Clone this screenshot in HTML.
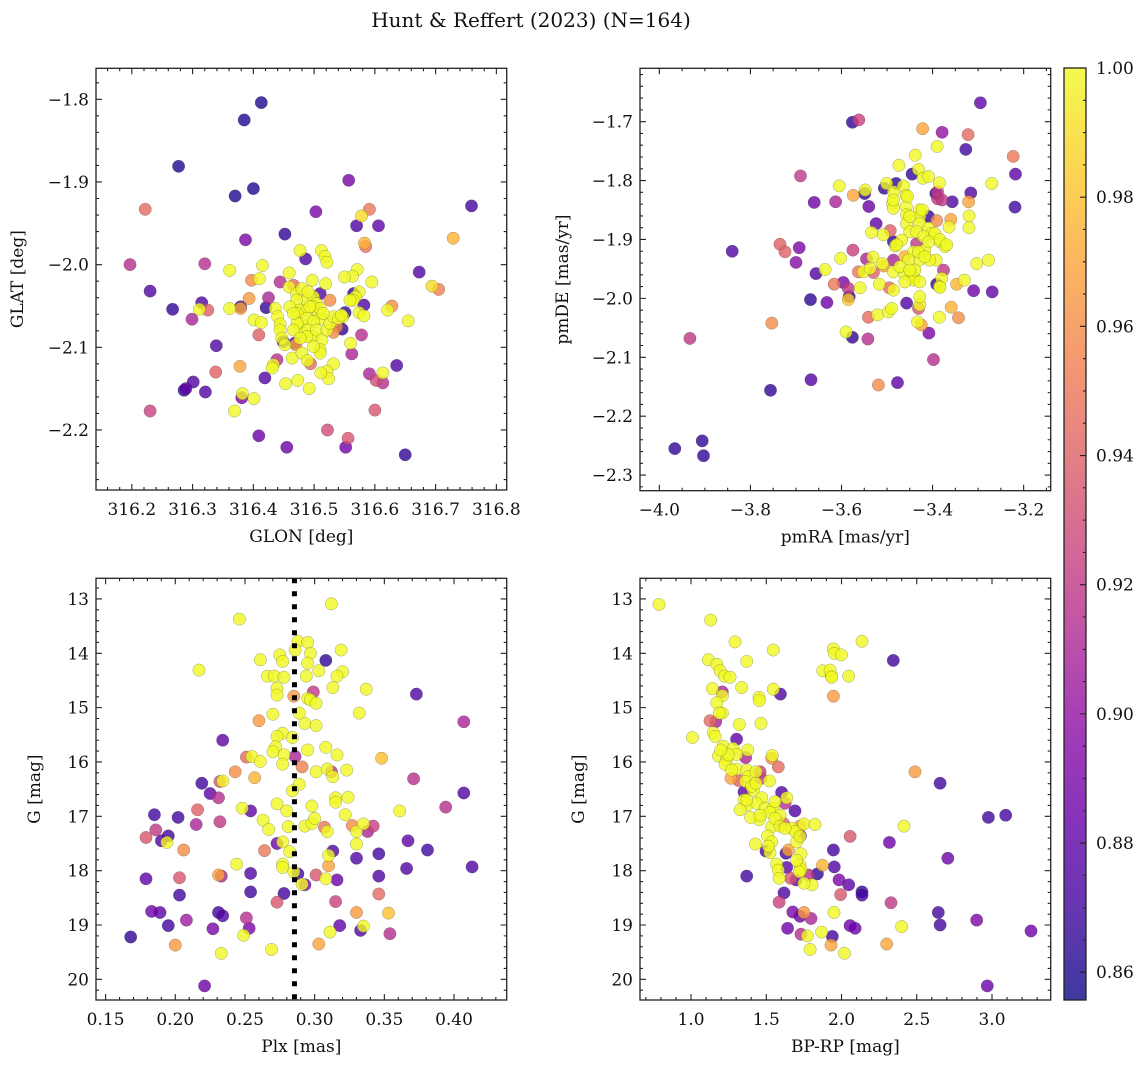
<!DOCTYPE html>
<html><head><meta charset="utf-8"><title>Hunt & Reffert (2023)</title>
<style>html,body{margin:0;padding:0;background:#fff}svg{display:block}text{font-family:"DejaVu Serif","Liberation Serif",serif;fill:#111}</style>
</head><body>
<svg id="fig" width="1148" height="1067" viewBox="0 0 1148 1067" xmlns="http://www.w3.org/2000/svg">
<defs><linearGradient id="plasma" x1="0" y1="1" x2="0" y2="0">
<stop offset="0" stop-color="#0d0887"/><stop offset="0.1" stop-color="#41049d"/><stop offset="0.2" stop-color="#6a00a8"/><stop offset="0.3" stop-color="#8f0da4"/><stop offset="0.4" stop-color="#b12a90"/><stop offset="0.5" stop-color="#cc4778"/><stop offset="0.6" stop-color="#e16462"/><stop offset="0.7" stop-color="#f2844b"/><stop offset="0.8" stop-color="#fca636"/><stop offset="0.9" stop-color="#fcce25"/><stop offset="1" stop-color="#f0f921"/>
</linearGradient></defs>
<text x="531" y="27" font-size="20" text-anchor="middle">Hunt &amp; Reffert (2023) (N=164)</text>
</svg>
<script>
const glon=[316.413,316.385,316.277,316.370,316.400,316.557,316.222,316.759,316.591,316.578,
316.503,316.570,316.606,316.452,316.387,316.729,316.585,316.583,316.486,316.197,
316.320,316.673,316.230,316.267,316.315,316.325,316.311,316.299,316.339,316.338,
316.301,316.286,316.289,316.321,316.230,316.409,316.455,316.522,316.556,316.552,
316.650,316.600,316.636,316.591,316.602,316.613,316.613,316.578,316.562,316.621,
316.628,316.655,316.694,316.705,316.595,316.582,316.565,316.574,316.582,316.574,
316.568,316.564,316.571,316.563,316.550,316.551,316.547,316.537,316.532,316.546,
316.560,316.532,316.521,316.524,316.511,316.526,316.510,316.519,316.512,316.518,
316.521,316.497,316.477,316.459,316.459,316.466,316.444,316.415,316.410,316.397,
316.393,316.379,316.379,316.361,316.361,316.401,316.413,316.409,316.425,316.421,
316.436,316.440,316.444,316.444,316.447,316.449,316.452,316.468,316.470,316.464,
316.480,316.489,316.494,316.439,316.433,316.431,316.419,316.453,316.473,316.492,
316.378,316.382,316.381,316.401,316.369,316.471,316.480,316.488,316.499,316.504,
316.471,316.476,316.488,316.499,316.507,316.510,316.472,316.478,316.488,316.499,
316.482,316.490,316.498,316.504,316.513,316.510,316.510,316.499,316.488,316.521,
316.526,316.532,316.540,316.545,316.472,316.466,316.477,316.510,316.515,316.490,
316.493,316.460,316.466,316.559];
const glat=[-1.804,-1.825,-1.881,-1.917,-1.908,-1.898,-1.933,-1.929,-1.933,-1.941,
-1.936,-1.953,-1.953,-1.963,-1.970,-1.968,-1.978,-1.974,-1.993,-2.000,
-1.999,-2.009,-2.032,-2.054,-2.046,-2.055,-2.054,-2.066,-2.098,-2.130,
-2.142,-2.152,-2.150,-2.154,-2.177,-2.207,-2.221,-2.200,-2.210,-2.221,
-2.230,-2.176,-2.122,-2.132,-2.140,-2.143,-2.131,-2.085,-2.108,-2.055,
-2.050,-2.068,-2.026,-2.030,-2.021,-2.049,-2.035,-2.058,-2.062,-2.033,
-2.039,-2.043,-2.006,-2.014,-2.015,-2.058,-2.063,-2.075,-2.082,-2.078,
-2.095,-2.120,-2.129,-2.138,-2.131,-2.043,-2.035,-2.023,-1.983,-1.990,
-1.997,-2.019,-1.983,-2.010,-2.027,-2.025,-2.021,-2.001,-2.017,-2.019,
-2.041,-2.053,-2.051,-2.007,-2.053,-2.067,-2.070,-2.085,-2.040,-2.052,
-2.053,-2.063,-2.072,-2.079,-2.089,-2.093,-2.097,-2.095,-2.097,-2.113,
-2.107,-2.116,-2.120,-2.115,-2.121,-2.125,-2.137,-2.144,-2.140,-2.150,
-2.123,-2.156,-2.161,-2.162,-2.177,-2.035,-2.029,-2.043,-2.039,-2.047,
-2.043,-2.055,-2.055,-2.051,-2.059,-2.065,-2.059,-2.071,-2.065,-2.069,
-2.083,-2.079,-2.087,-2.079,-2.091,-2.103,-2.107,-2.099,-2.087,-2.079,
-2.071,-2.063,-2.065,-2.061,-2.071,-2.079,-2.089,-2.053,-2.059,-2.033,
-2.051,-2.051,-2.059,-2.043];
const prob1=[.86,.86,.86,.86,.86,.89,.945,.87,.95,.99,
.89,.875,.88,.865,.89,.975,.95,.975,.875,.915,
.915,.875,.875,.865,.875,.94,1,.91,.875,.94,
.875,.865,.88,.875,.925,.885,.885,.93,.935,.885,
.865,.935,.875,.91,.93,.915,1,.915,.91,1,
.96,1,.99,.955,1,.875,.865,1,1,1,
1,1,1,1,1,.865,1,.96,.96,.865,
1,1,1,1,1,.96,.875,1,1,1,
1,1,1,1,1,.945,.915,1,1,.96,
.965,.97,.865,1,1,1,1,.94,.91,.865,
1,1,1,1,1,.865,1,.875,.97,1,
1,1,.945,.915,1,1,.875,1,1,1,
.97,1,.89,1,1,1,1,1,1,1,
1,1,1,1,1,1,1,1,1,1,
1,1,1,1,1,1,1,1,1,1,
1,1,1,1,1,1,1,1,1,1,
1,1,1,1];
const pmra=[-3.295,-3.576,-3.562,-3.422,-3.379,-3.322,-3.327,-3.390,-3.223,-3.438,
-3.474,-3.445,-3.431,-3.421,-3.409,-3.385,-3.270,-3.218,-3.219,-3.690,
-3.605,-3.574,-3.549,-3.548,-3.660,-3.613,-3.540,-3.506,-3.501,-3.480,
-3.486,-3.464,-3.458,-3.488,-3.486,-3.458,-3.393,-3.389,-3.379,-3.357,
-3.316,-3.321,-3.320,-3.320,-3.360,-3.364,-3.391,-3.409,-3.429,-3.428,
-3.457,-3.457,-3.450,-3.428,-3.435,-3.409,-3.402,-3.420,-3.435,-3.524,
-3.534,-3.493,-3.508,-3.486,-3.482,-3.384,-3.373,-3.417,-3.442,-3.429,
-3.461,-3.453,-3.392,-3.303,-3.277,-3.735,-3.724,-3.693,-3.700,-3.575,
-3.602,-3.545,-3.531,-3.552,-3.563,-3.530,-3.507,-3.510,-3.486,-3.486,
-3.462,-3.446,-3.440,-3.442,-3.428,-3.461,-3.376,-3.380,-3.385,-3.391,
-3.384,-3.347,-3.330,-3.310,-3.269,-3.636,-3.656,-3.596,-3.616,-3.585,
-3.583,-3.585,-3.559,-3.517,-3.495,-3.486,-3.668,-3.632,-3.457,-3.431,
-3.428,-3.425,-3.433,-3.385,-3.359,-3.343,-3.521,-3.497,-3.490,-3.541,
-3.753,-3.590,-3.576,-3.542,-3.408,-3.933,-3.398,-3.667,-3.756,-3.477,
-3.519,-3.966,-3.906,-3.903,-3.840,-3.537,-3.472,-3.422,-3.395,-3.384,
-3.439,-3.450,-3.468,-3.479,-3.409,-3.406,-3.369,-3.428,-3.389,-3.455,
-3.431,-3.417,-3.486,-3.450];
const pmde=[-1.668,-1.701,-1.697,-1.712,-1.718,-1.722,-1.747,-1.742,-1.759,-1.757,
-1.774,-1.789,-1.781,-1.796,-1.793,-1.804,-1.805,-1.789,-1.845,-1.792,
-1.809,-1.825,-1.822,-1.816,-1.837,-1.836,-1.844,-1.813,-1.805,-1.805,
-1.819,-1.809,-1.825,-1.839,-1.847,-1.844,-1.822,-1.831,-1.833,-1.836,
-1.821,-1.836,-1.860,-1.880,-1.866,-1.879,-1.868,-1.861,-1.850,-1.861,
-1.858,-1.873,-1.887,-1.873,-1.887,-1.881,-1.890,-1.895,-1.907,-1.873,
-1.888,-1.885,-1.892,-1.904,-1.911,-1.904,-1.912,-1.918,-1.921,-1.935,
-1.929,-1.935,-1.935,-1.941,-1.935,-1.908,-1.921,-1.914,-1.939,-1.918,
-1.932,-1.933,-1.930,-1.955,-1.955,-1.956,-1.945,-1.941,-1.935,-1.955,
-1.958,-1.958,-1.966,-1.969,-1.972,-1.972,-1.952,-1.966,-1.980,-1.976,
-1.981,-1.976,-1.969,-1.987,-1.989,-1.951,-1.958,-1.973,-1.976,-1.983,
-1.997,-2.002,-1.982,-1.976,-1.982,-1.986,-2.002,-2.007,-2.008,-2.017,
-2.011,-2.045,-2.040,-2.032,-2.015,-2.033,-2.028,-2.023,-2.017,-2.032,
-2.042,-2.057,-2.066,-2.069,-2.059,-2.068,-2.104,-2.138,-2.156,-2.143,
-2.147,-2.255,-2.242,-2.267,-1.920,-1.949,-1.946,-1.850,-1.890,-1.900,
-1.952,-1.861,-1.901,-1.909,-1.904,-1.935,-1.909,-1.997,-1.819,-1.827,
-1.921,-1.929,-1.833,-1.952];
const prob2=[.88,.865,.925,.97,.9,.945,.87,1,.95,1,
1,.865,1,1,1,1,1,.88,.87,.92,
1,.97,.865,1,.885,.91,.885,.865,1,.865,
1,1,1,1,1,1,.865,.92,.92,.875,
.875,.97,1,1,.97,1,.96,.865,1,1,
1,1,1,1,1,1,1,1,.92,.88,
1,.94,1,.865,1,1,1,1,1,1,
.975,1,1,1,1,.94,.94,.89,.895,.925,
1,.91,1,1,.95,.94,.97,1,.91,1,
1,1,1,1,1,1,.92,1,1,.865,
1,.975,1,.885,.88,1,.875,.89,.95,.92,
.865,.985,1,1,.945,1,.865,.885,.875,.935,
1,.97,1,1,.975,.96,1,1,1,.945,
.96,1,.865,.915,.89,.92,.915,.875,.865,.88,
.96,.865,.865,.865,.875,1,1,1,1,1,
1,1,1,1,1,1,1,1,.92,1,
1,1,1,1];
const plx=[.312,.246,.288,.295,.286,.297,.319,.275,.261,.277,
.308,.295,.217,.303,.320,.316,.266,.271,.278,.294,
.313,.273,.273,.299,.285,.337,.373,.295,.297,.301,
.270,.260,.293,.301,.332,.407,.234,.277,.273,.284,
.272,.308,.295,.316,.278,.286,.251,.255,.261,.348,
.277,.291,.243,.257,.301,.309,.312,.323,.313,.232,
.234,.219,.225,.231,.289,.284,.371,.407,.315,.324,
.315,.273,.248,.254,.280,.298,.394,.361,.216,.185,
.202,.215,.232,.263,.267,.322,.293,.298,.281,.307,
.309,.327,.330,.335,.342,.338,.186,.179,.190,.195,
.194,.206,.273,.277,.264,.282,.313,.310,.330,.330,
.367,.381,.346,.310,.244,.277,.277,.179,.203,.233,
.231,.254,.288,.285,.301,.308,.316,.346,.366,.413,
.203,.254,.278,.273,.315,.346,.293,.291,.183,.189,
.231,.234,.208,.251,.253,.227,.195,.168,.200,.249,
.233,.269,.303,.311,.318,.333,.335,.330,.353,.354,
.221,.289,.270,.300];
const gmag3=[13.09,13.37,13.78,13.80,13.94,14.00,13.94,14.03,14.12,14.15,
14.13,14.18,14.31,14.32,14.34,14.42,14.42,14.42,14.44,14.42,
14.63,14.64,14.77,14.71,14.79,14.66,14.75,14.83,14.86,14.92,
15.12,15.24,15.29,15.33,15.10,15.26,15.60,15.47,15.53,15.55,
15.72,15.73,15.78,15.87,15.87,15.90,15.91,15.90,15.99,15.93,
16.04,16.09,16.18,16.29,16.18,16.13,16.18,16.15,16.27,16.36,
16.35,16.39,16.58,16.66,16.41,16.53,16.31,16.57,16.66,16.65,
16.74,16.77,16.85,16.90,16.90,16.81,16.83,16.90,16.88,16.97,
17.02,17.15,17.10,17.07,17.24,16.97,17.18,17.13,17.19,17.20,
17.28,17.17,17.28,17.14,17.18,17.28,17.25,17.39,17.45,17.36,
17.48,17.62,17.50,17.47,17.63,17.65,17.64,17.72,17.77,17.51,
17.45,17.62,17.69,17.91,17.88,17.88,17.94,18.15,18.13,18.10,
18.08,18.05,18.06,18.02,18.08,18.15,18.17,18.10,17.96,17.93,
18.45,18.39,18.42,18.58,18.57,18.43,18.26,18.25,18.75,18.77,
18.77,18.83,18.91,18.87,19.06,19.07,19.01,19.22,19.37,19.19,
19.52,19.45,19.35,19.13,19.01,19.10,19.02,18.77,18.78,19.16,
20.12,15.10,15.81,17.04];
const prob3=[1,1,1,1,1,1,1,1,1,1,
.865,1,1,1,1,1,1,1,1,1,
1,1,1,.92,.965,1,.875,1,1,1,
1,.965,1,1,1,.91,.88,1,1,1,
1,1,1,1,1,.91,.945,1,1,.98,
1,.955,.96,.975,1,1,.92,1,1,.935,
1,.87,.88,.915,1,1,.915,.875,1,1,
1,1,1,.88,1,1,.915,1,.94,.87,
.87,.91,.92,1,1,1,1,1,1,.95,
1,.96,1,1,.925,.91,.92,.935,.875,.87,
1,.96,.885,1,.95,1,.875,1,.875,1,
.88,.87,.87,.97,1,1,1,.88,.935,.91,
.97,.875,.87,1,.935,1,.885,.875,.875,.875,
.87,.87,.87,.935,.925,.945,.89,1,.885,.88,
.87,.875,.905,.915,.89,.89,.87,.865,.965,1,
1,1,.97,1,.88,.875,1,.965,.98,.915,
.885,1,1,1];
const plxRef=[0.2855];
const bprp=[.787,1.131,1.292,1.547,2.136,1.946,1.952,1.999,2.344,1.115,
1.171,1.193,1.222,1.259,1.370,1.875,1.933,2.048,1.924,1.142,
1.337,1.547,1.594,1.946,1.208,1.208,1.452,1.454,1.171,1.208,
1.188,1.126,1.164,1.321,1.465,1.009,1.148,1.160,1.303,1.215,
1.281,1.377,1.363,1.182,1.237,1.226,1.303,1.540,1.536,1.580,
2.488,2.655,1.266,1.303,1.370,1.381,1.432,1.459,1.465,1.520,
1.317,1.363,1.352,1.414,1.602,1.636,1.625,1.470,1.352,1.374,
1.436,1.691,1.492,1.547,1.525,1.591,1.454,1.536,1.614,1.669,
1.691,1.751,1.824,1.724,2.415,2.057,2.318,2.706,2.976,3.091,
1.727,1.702,1.509,1.536,1.428,1.498,1.525,1.631,1.647,1.731,
1.946,1.952,1.569,1.636,1.724,1.731,1.720,1.873,1.370,1.580,
1.585,1.662,1.698,1.780,1.840,1.804,1.983,2.048,2.136,2.136,
1.618,1.994,1.585,2.329,1.676,1.751,1.724,1.797,1.950,2.643,
2.655,2.898,3.259,1.642,2.057,2.090,2.400,1.731,1.773,1.868,
1.939,1.930,2.300,1.791,2.019,2.969,1.514,1.558,1.591,1.403,
1.432,1.396,1.558,1.270,1.248,1.197,1.724,1.751,1.702,1.625,
1.326,1.935,1.370,1.459];
const gmag4=[13.10,13.39,13.79,13.94,13.78,13.92,14.00,14.03,14.13,14.12,
14.20,14.32,14.42,14.44,14.15,14.32,14.42,14.42,14.31,14.65,
14.63,14.66,14.75,14.79,14.71,14.78,14.81,14.87,14.91,15.10,
15.10,15.24,15.26,15.31,15.29,15.55,15.46,15.53,15.58,15.71,
15.75,15.78,15.92,15.89,15.96,16.04,15.86,15.88,15.93,16.09,
16.18,16.39,16.30,16.13,16.15,16.27,16.18,16.18,16.30,16.35,
16.34,16.36,16.55,16.52,16.56,16.66,16.76,16.66,16.70,16.79,
16.76,16.90,16.85,16.85,16.93,16.98,17.06,17.19,17.13,17.22,
17.28,17.14,17.15,17.18,17.18,17.37,17.48,17.77,17.02,16.98,
17.36,17.47,17.36,17.47,17.51,17.64,17.67,17.68,17.62,17.69,
17.62,17.93,17.88,17.94,17.90,17.98,18.02,17.90,18.10,17.99,
18.14,18.14,18.17,18.08,18.06,18.26,18.17,18.26,18.39,18.45,
18.41,18.44,18.58,18.59,18.76,18.77,18.84,18.88,18.77,18.77,
19.00,18.91,19.11,19.06,19.01,19.06,19.03,19.17,19.20,19.13,
19.21,19.37,19.35,19.45,19.52,20.12,17.55,17.04,17.18,16.45,
16.39,17.02,16.73,16.15,15.87,15.78,17.37,18.23,17.81,17.22,
16.88,14.44,16.70,16.98];
const prob4=[1,1,1,1,1,1,1,1,.87,1,
1,1,1,1,1,1,1,1,1,1,
1,1,.875,.965,.91,1,1,1,1,1,
1,.945,.91,1,1,1,1,1,.88,1,
1,1,.91,1,1,1,1,1,.96,.945,
.965,.87,.97,1,1,1,1,.925,.92,1,
.94,1,.88,1,.875,1,.915,1,1,1,
1,.875,1,1,1,1,1,1,.94,1,
1,1,1,.97,1,.935,.885,.885,.87,.87,
.875,1,1,1,1,.875,1,.87,.97,1,
.87,.875,1,.88,1,1,1,.975,.87,1,
1,.935,.885,.915,.865,1,.89,.88,.865,.87,
.875,.935,.925,.92,.89,.965,.885,.91,1,.87,
.87,.89,.885,.885,.885,.885,1,.915,1,1,
.87,.97,.97,1,1,.885,1,1,1,1,
1,1,1,1,1,1,1,1,1,1,
1,1,1,1];
const xticks1=[316.2,316.3,316.4,316.5,316.6,316.7,316.8];
const yticks1=[-1.8,-1.9,-2.0,-2.1,-2.2];
const xticks2=[-4.0,-3.8,-3.6,-3.4,-3.2];
const yticks2=[-1.7,-1.8,-1.9,-2.0,-2.1,-2.2,-2.3];
const xticks3=[0.15,0.20,0.25,0.30,0.35,0.40];
const yticks3=[13,14,15,16,17,18,19,20];
const xticks4=[1.0,1.5,2.0,2.5,3.0];
const yticks4=[13,14,15,16,17,18,19,20];
const cbticks=[0.86,0.88,0.90,0.92,0.94,0.96,0.98,1.00];
const VMIN=0.8557, VMAX=1.0;

const NS="http://www.w3.org/2000/svg";
const svg=document.getElementById('fig');
function mk(tag,attrs,parent){const e=document.createElementNS(NS,tag);for(const k in attrs)e.setAttribute(k,attrs[k]);(parent||svg).appendChild(e);return e;}
const stops=[[13,8,135],[65,4,157],[106,0,168],[143,13,164],[177,42,144],[204,71,120],[225,100,98],[242,132,75],[252,166,54],[252,206,37],[240,249,33]];
function plasma(v){let t=(v-VMIN)/(VMAX-VMIN);t=Math.max(0,Math.min(1,t))*10;const i=Math.min(9,Math.floor(t)),f=t-i;const a=stops[i],b=stops[i+1];return 'rgb('+[0,1,2].map(k=>Math.round(a[k]+(b[k]-a[k])*f)).join(',')+')';}
function fmt(v,d){return v.toFixed(d).replace('-','\u2212');}
const FS=17;

function panel(cfg){
  const {name,px0,px1,py0,py1,xmin,xmax,ymin,ymax,xs,ys,ps,xt,yt,xminor,yminor,xd,yd,xlabel,ylabel,ylabelX}=cfg;
  const sx=v=>px0+(v-xmin)/(xmax-xmin)*(px1-px0);
  const sy=v=>py1-(v-ymin)/(ymax-ymin)*(py1-py0);
  const g=mk('g',{});
  
  
  const clip=mk('clipPath',{id:name+'clip'},g);
  mk('rect',{x:px0,y:py0,width:px1-px0,height:py1-py0},clip);
  const pts=mk('g',{'clip-path':'url(#'+name+'clip)'},g);
  
  
  const idx=ps.map((p,i)=>i).sort((a,b)=>ps[a]-ps[b]);
  idx.forEach(i=>{
    const c=mk('circle',{cx:sx(xs[i]).toFixed(1),cy:sy(ys[i]).toFixed(1),r:6.2,fill:plasma(ps[i]),'fill-opacity':0.8,stroke:'rgba(60,60,60,0.45)','stroke-width':0.5},pts);
    
    
  });
  if(cfg.vline!==undefined){
    const l=mk('line',{x1:sx(cfg.vline),x2:sx(cfg.vline),y1:py0,y2:py1,stroke:'#000','stroke-width':5,'stroke-dasharray':'5,8'},g);
    
    
  }
  const fr=mk('rect',{x:px0,y:py0,width:px1-px0,height:py1-py0,fill:'none',stroke:'#222','stroke-width':1.3},g);
  
  
  let d='';
  const lo=Math.min(xmin,xmax),hi=Math.max(xmin,xmax);
  for(let v=Math.ceil(lo/xminor-1e-6)*xminor;v<=hi+1e-9;v+=xminor){const x=sx(v);d+=`M${x},${py1}v-3M${x},${py0}v3`;}
  const ylo=Math.min(ymin,ymax),yhi=Math.max(ymin,ymax);
  for(let v=Math.ceil(ylo/yminor-1e-6)*yminor;v<=yhi+1e-9;v+=yminor){const y=sy(v);d+=`M${px0},${y}h3M${px1},${y}h-3`;}
  xt.forEach(v=>{const x=sx(v);d+=`M${x},${py1}v-6M${x},${py0}v6`;
    const t=mk('text',{x:x,y:py1+25,'font-size':FS,'text-anchor':'middle'},g);t.textContent=fmt(v,xd);
    
    });
  yt.forEach(v=>{const y=sy(v);d+=`M${px0},${y}h6M${px1},${y}h-6`;
    const t=mk('text',{x:px0-7,y:y+6,'font-size':FS,'text-anchor':'end'},g);t.textContent=fmt(v,yd);
    
    });
  const tk=mk('path',{d:d,stroke:'#222','stroke-width':1.1,fill:'none'},g);
  
  
  const xl=mk('text',{x:(px0+px1)/2,y:py1+52,'font-size':FS,'text-anchor':'middle'},g);xl.textContent=xlabel;
  
  
  const cy=(py0+py1)/2;
  const yl=mk('text',{x:ylabelX,y:cy,'font-size':FS,'text-anchor':'middle',transform:`rotate(-90 ${ylabelX} ${cy})`},g);yl.textContent=ylabel;
  
  
}
panel({name:'glon-glat',px0:96,px1:506.7,py0:68.3,py1:490,xmin:316.141,xmax:316.817,ymin:-2.2726,ymax:-1.7625,xs:glon,ys:glat,ps:prob1,xt:xticks1,yt:yticks1,xminor:0.02,yminor:0.02,xd:1,yd:1,xlabel:'GLON [deg]',ylabel:'GLAT [deg]',ylabelX:23});
panel({name:'pm',px0:640,px1:1050.7,py0:68.3,py1:490.7,xmin:-4.0425,xmax:-3.1406,ymin:-2.3265,ymax:-1.6094,xs:pmra,ys:pmde,ps:prob2,xt:xticks2,yt:yticks2,xminor:0.05,yminor:0.02,xd:1,yd:1,xlabel:'pmRA [mas/yr]',ylabel:'pmDE [mas/yr]',ylabelX:568});
panel({name:'plx-g',px0:96,px1:506.7,py0:578.3,py1:1000,xmin:0.1431,xmax:0.4378,ymin:20.38,ymax:12.62,xs:plx,ys:gmag3,ps:prob3,xt:xticks3,yt:yticks3,xminor:0.01,yminor:0.2,xd:2,yd:0,xlabel:'Plx [mas]',ylabel:'G [mag]',ylabelX:40,vline:plxRef[0]});
panel({name:'cmd',px0:640,px1:1050.7,py0:578.3,py1:1000,xmin:0.661,xmax:3.390,ymin:20.38,ymax:12.62,xs:bprp,ys:gmag4,ps:prob4,xt:xticks4,yt:yticks4,xminor:0.1,yminor:0.2,xd:1,yd:0,xlabel:'BP-RP [mag]',ylabel:'G [mag]',ylabelX:584});

const cb=mk('g',{});


const cx0=1064,cx1=1086,cy0=68,cy1=1000;
const cr=mk('rect',{x:cx0,y:cy0,width:cx1-cx0,height:cy1-cy0,fill:'url(#plasma)','fill-opacity':0.8},cb);


const cf=mk('rect',{x:cx0,y:cy0,width:cx1-cx0,height:cy1-cy0,fill:'none',stroke:'#222','stroke-width':1.3},cb);


const cs=v=>cy1-(v-VMIN)/(VMAX-VMIN)*(cy1-cy0);
let cd='';
for(let v=0.86;v<=1.0001;v+=0.005){cd+=`M${cx1},${cs(v)}h-3`;}
cbticks.forEach(v=>{const y=cs(v);cd+=`M${cx1},${y}h-6`;
  const t=mk('text',{x:cx1+10,y:y+6,'font-size':FS},cb);t.textContent=v.toFixed(2);
  
  });
const ct=mk('path',{d:cd,stroke:'#222','stroke-width':1.1},cb);


</script>
</body></html>
